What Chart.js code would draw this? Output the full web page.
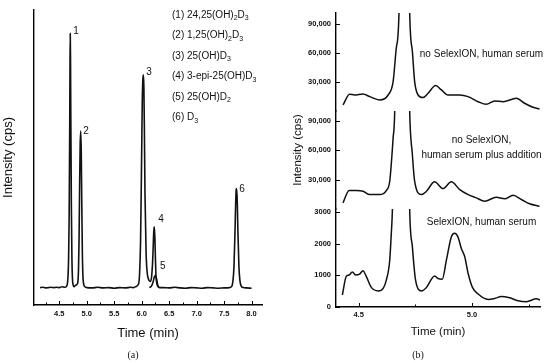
<!DOCTYPE html>
<html>
<head>
<meta charset="utf-8">
<script src="https://cdn.jsdelivr.net/npm/chart.js@4.4.1/dist/chart.umd.min.js"></script>
<style>
  body { margin: 0; background: #fff; }
  #wrap { position: relative; width: 550px; height: 363px; }
  .panel { position: absolute; top: 0; height: 363px; }
</style>
</head>
<body>
<div id="wrap">
  <div class="panel" style="left:0;width:280px"><canvas id="chartA"></canvas></div>
  <div class="panel" style="left:280px;width:270px"><canvas id="chartB"></canvas></div>
</div>
<script>
// ---- panel (a): overlaid chromatogram, intensity in arbitrary % units ----
const timeA = [4.15, 4.20, 4.25, 4.30, 4.35, 4.40, 4.45, 4.50, 4.55, 4.60, 4.63, 4.65, 4.66, 4.67, 4.68, 4.69, 4.695, 4.70, 4.705, 4.71,
  4.72, 4.73, 4.74, 4.75, 4.77, 4.79, 4.81, 4.83, 4.84, 4.85, 4.86, 4.87, 4.88, 4.89, 4.90, 4.91, 4.92, 4.93, 4.94, 4.96,
  5.00, 5.10, 5.20, 5.30, 5.40, 5.50, 5.60, 5.70, 5.80, 5.85, 5.90, 5.94, 5.96, 5.98, 6.00, 6.01, 6.02, 6.03, 6.04, 6.05,
  6.06, 6.08, 6.10, 6.13, 6.16, 6.18, 6.20, 6.21, 6.22, 6.23, 6.24, 6.25, 6.26, 6.28, 6.30, 6.35, 6.40, 6.50, 6.60, 6.70,
  6.80, 6.90, 7.00, 7.10, 7.20, 7.30, 7.40, 7.50, 7.60, 7.64, 7.66, 7.68, 7.70, 7.71, 7.72, 7.73, 7.74, 7.75, 7.77, 7.79,
  7.81, 7.85, 7.90, 8.00];
const intensityA = [5.9, 6.0, 5.8, 5.9, 6.0, 5.9, 6.0, 5.9, 6.2, 6.0, 6.3, 7.5, 10, 16, 30, 60, 80, 92, 82, 64,
  34, 16, 9, 7, 6.2, 6.6, 6.8, 7.2, 8, 12, 22, 40, 54, 59, 52, 34, 18, 10, 7.5, 6.3,
  5.9, 5.8, 6.0, 5.8, 5.9, 5.7, 5.9, 5.8, 6.0, 5.9, 6.3, 7, 10, 22, 52, 68, 76, 78, 74, 58,
  38, 18, 11, 8.5, 8, 9.5, 15, 20, 25, 26.5, 23, 16, 10, 7, 6.2, 5.9, 5.9, 5.8, 6.0, 5.8,
  5.7, 5.9, 5.8, 5.7, 5.9, 5.8, 5.7, 5.8, 5.9, 6.3, 8, 13, 26, 34, 39, 39.5, 35, 26, 13, 8,
  6.5, 5.9, 5.8, 5.7];
// 25(OH)D2 trace, overlaid near peak 4
const time5 = [6.14, 6.18, 6.21, 6.23, 6.25, 6.27, 6.29, 6.31, 6.34];
const intensity5 = [5.9, 6.5, 8, 9.5, 10, 9, 7, 6, 5.8];

const ticksA = [4.5, 5.0, 5.5, 6.0, 6.5, 7.0, 7.5, 8.0];
const minorA = [4.25, 4.75, 5.25, 5.75, 6.25, 6.75, 7.25, 7.75];

const peakNames = ['1', '2', '3', '4', '5', '6'];
const peakTops = [[4.70, 92], [4.89, 59], [6.03, 78], [6.23, 26.5], [6.25, 10], [7.73, 39.5]];

// [text, subscript?]
const compounds = [
  [['(1) 24,25(OH)', false], ['2', true], ['D', false], ['3', true]],
  [['(2) 1,25(OH)', false], ['2', true], ['D', false], ['3', true]],
  [['(3) 25(OH)D', false], ['3', true]],
  [['(4) 3-epi-25(OH)D', false], ['3', true]],
  [['(5) 25(OH)D', false], ['2', true]],
  [['(6) D', false], ['3', true]]
];

// ---- panel (b): three stacked traces ----
const timeB1 = [4.431, 4.460, 4.482, 4.519, 4.549, 4.593, 4.630, 4.652, 4.666, 4.678, 4.700, 4.725, 4.737, 4.747, 4.762,
  4.784, 4.806, 4.840, 4.865, 4.894, 4.946, 4.983, 5.027, 5.063, 5.100, 5.137, 5.196, 5.232, 5.269, 5.298];
const valuesB1 = [6200, 17300, 16500, 17600, 14800, 11400, 16500, 30300, 64900, 102700, 600000, 102700, 61300, 30300, 16500,
  13800, 18300, 26200, 21700, 16500, 16500, 14800, 9600, 6900, 10300, 9600, 13100, 8000, 3800, 2100];

const timeB2 = [4.431, 4.458, 4.490, 4.519, 4.549, 4.593, 4.622, 4.637, 4.652, 4.659, 4.690, 4.725, 4.737, 4.747, 4.777,
  4.799, 4.835, 4.872, 4.909, 4.946, 4.983, 5.019, 5.056, 5.107, 5.144, 5.181, 5.218, 5.254, 5.298];
const valuesB2 = [6300, 18800, 18800, 18100, 14700, 14700, 18800, 28300, 72400, 99500, 600000, 100000, 55400, 28300, 14700,
  18100, 27700, 20800, 27700, 19800, 14700, 11400, 7900, 12000, 10400, 14000, 9700, 5300, 2800];

const timeB3 = [4.428, 4.446, 4.458, 4.472, 4.487, 4.504, 4.519, 4.534, 4.556, 4.586, 4.608, 4.622, 4.637, 4.644, 4.649,
  4.690, 4.725, 4.737, 4.751, 4.777, 4.799, 4.835, 4.850, 4.869, 4.887, 4.909, 4.923, 4.938, 4.953, 4.968,
  4.983, 5.002, 5.027, 5.071, 5.100, 5.129, 5.166, 5.203, 5.240, 5.284, 5.300];
const valuesB3 = [380, 980, 1010, 1110, 1010, 1040, 1150, 960, 620, 510, 590, 850, 1480, 2330, 3120,
  20000, 3100, 1900, 850, 510, 620, 980, 900, 880, 1480, 2220, 2330, 2220, 1850, 1590,
  1060, 620, 410, 240, 270, 330, 290, 200, 170, 260, 220];

const ticksB = [4.5, 5.0];
const minorB = [4.75, 5.25];
const ticksBigY = [30000, 60000, 90000];
const ticksSmallY = [0, 1000, 2000, 3000];
const traceNotes = [['no SelexION, human serum'], ['no SelexION,', 'human serum plus addition'], ['SelexION, human serum']];

Chart.defaults.font.family = "'Liberation Sans', Arial, sans-serif";
Chart.defaults.color = '#111';

const pts = (xs, ys) => xs.map((x, i) => ({ x: x, y: ys[i] }));
const tickFont = { size: 7.5, weight: 'bold' };
const axisBorder = { display: true, color: '#000', width: 1.4 };

function xTicks(scale, values, len) {
  const ctx = scale.ctx;
  ctx.save();
  ctx.strokeStyle = '#000';
  ctx.lineWidth = 1;
  ctx.beginPath();
  values.forEach(v => {
    const x = Math.round(scale.getPixelForValue(v)) + 0.5;
    ctx.moveTo(x, scale.top);
    ctx.lineTo(x, scale.top - len);
  });
  ctx.stroke();
  ctx.restore();
}

function yTicks(scale, len) {
  const ctx = scale.ctx;
  ctx.save();
  ctx.strokeStyle = '#000';
  ctx.lineWidth = 1;
  ctx.beginPath();
  scale.ticks.forEach(t => {
    const y = Math.round(scale.getPixelForValue(t.value)) + 0.5;
    ctx.moveTo(scale.right, y);
    ctx.lineTo(scale.right + len, y);
  });
  ctx.stroke();
  ctx.restore();
}

const panelA = {
  id: 'panelA',
  afterDraw(chart) {
    const ctx = chart.ctx;
    const xs = chart.scales.x, ys = chart.scales.y;
    xTicks(xs, ticksA, 4);
    xTicks(xs, minorA, 2.5);
    ctx.save();
    ctx.fillStyle = '#111';
    // peak numbers
    ctx.font = "10px 'Liberation Sans', Arial, sans-serif";
    ctx.textBaseline = 'middle';
    ctx.textAlign = 'left';
    const offs = [[3, -2], [2.5, 0], [3, -2.5], [4, -8], [4.5, -9.5], [2.5, 1]];
    peakNames.forEach((n, i) => {
      const px = xs.getPixelForValue(peakTops[i][0]);
      const py = ys.getPixelForValue(peakTops[i][1]);
      ctx.fillText(n, px + offs[i][0], py + offs[i][1]);
    });
    // compound list
    compounds.forEach((parts, i) => {
      let x = 172;
      const y = 15 + i * 20.5;
      parts.forEach(p => {
        ctx.font = (p[1] ? '7px' : '10px') + " 'Liberation Sans', Arial, sans-serif";
        ctx.fillText(p[0], x, p[1] ? y + 3.5 : y);
        x += ctx.measureText(p[0]).width;
      });
    });
    ctx.font = "10px 'Liberation Serif', 'Times New Roman', serif";
    ctx.textAlign = 'center';
    ctx.fillText('(a)', 133, 355);
    ctx.restore();
  }
};

const panelB = {
  id: 'panelB',
  afterDraw(chart) {
    const ctx = chart.ctx;
    xTicks(chart.scales.x, ticksB, 4);
    xTicks(chart.scales.x, minorB, 2.5);
    ['yTop', 'yMid', 'yLow'].forEach(id => yTicks(chart.scales[id], 4));
    ctx.save();
    ctx.fillStyle = '#111';
    ctx.textBaseline = 'middle';
    ctx.textAlign = 'center';
    ctx.font = "10px 'Liberation Sans', Arial, sans-serif";
    const noteY = [[54], [140, 155], [222]];
    traceNotes.forEach((lines, i) => lines.forEach((t, j) => ctx.fillText(t, 201.5, noteY[i][j])));
    ctx.save();
    ctx.translate(18, 150);
    ctx.rotate(-Math.PI / 2);
    ctx.font = "11.5px 'Liberation Sans', Arial, sans-serif";
    ctx.fillText('Intensity (cps)', 0, 0);
    ctx.restore();
    ctx.font = "10px 'Liberation Serif', 'Times New Roman', serif";
    ctx.fillText('(b)', 138, 355);
    ctx.restore();
  }
};

new Chart(document.getElementById('chartA'), {
  type: 'line',
  data: {
    datasets: [
      { data: pts(timeA, intensityA), borderColor: '#111', borderWidth: 1.6, pointRadius: 0, cubicInterpolationMode: 'monotone' },
      { data: pts(time5, intensity5), borderColor: '#111', borderWidth: 1.6, pointRadius: 0, cubicInterpolationMode: 'monotone' }
    ]
  },
  options: {
    responsive: true,
    maintainAspectRatio: false,
    animation: false,
    layout: { padding: { top: 10, right: 18, left: 0, bottom: 0 } },
    plugins: { legend: { display: false }, tooltip: { enabled: false } },
    scales: {
      x: {
        type: 'linear', min: 4.04, max: 8.19,
        afterBuildTicks: s => { s.ticks = ticksA.map(v => ({ value: v })); },
        afterFit: s => { s.height = 58; },
        grid: { display: false, drawTicks: false },
        border: axisBorder,
        ticks: { font: tickFont, padding: 4, maxRotation: 0, autoSkip: false, callback: v => v.toFixed(1) },
        title: { display: true, text: 'Time (min)', font: { size: 13 }, padding: { top: 0, bottom: 22 } }
      },
      y: {
        min: 0, max: 100,
        afterFit: s => { s.width = 34; },
        grid: { display: false, drawTicks: false },
        border: axisBorder,
        ticks: { display: false },
        title: { display: true, text: 'Intensity (cps)', font: { size: 13 }, padding: { top: 1, bottom: 0 } }
      }
    }
  },
  plugins: [panelA]
});

const yCommon = (max, vals, fmt, w) => ({
  type: 'linear', position: 'left', stack: 'b', stackWeight: 1, weight: w,
  min: 0, max: max,
  afterBuildTicks: s => { s.ticks = vals.map(v => ({ value: v })); },
  afterFit: s => { s.width = 56; },
  grid: { display: false, drawTicks: false },
  border: axisBorder,
  ticks: { font: tickFont, padding: 5, autoSkip: false, callback: fmt }
});

new Chart(document.getElementById('chartB'), {
  type: 'line',
  data: {
    datasets: [
      { data: pts(timeB1, valuesB1), yAxisID: 'yTop', borderColor: '#111', borderWidth: 1.5, pointRadius: 0, cubicInterpolationMode: 'monotone' },
      { data: pts(timeB2, valuesB2), yAxisID: 'yMid', borderColor: '#111', borderWidth: 1.5, pointRadius: 0, cubicInterpolationMode: 'monotone' },
      { data: pts(timeB3, valuesB3), yAxisID: 'yLow', borderColor: '#111', borderWidth: 1.5, pointRadius: 0, cubicInterpolationMode: 'monotone' }
    ]
  },
  options: {
    responsive: true,
    maintainAspectRatio: false,
    animation: false,
    layout: { padding: { top: 13, right: 10, left: 0, bottom: 0 } },
    plugins: { legend: { display: false }, tooltip: { enabled: false } },
    scales: {
      x: {
        type: 'linear', min: 4.4, max: 5.3,
        afterBuildTicks: s => { s.ticks = ticksB.map(v => ({ value: v })); },
        afterFit: s => { s.height = 56; },
        grid: { display: false, drawTicks: false },
        border: axisBorder,
        ticks: { font: tickFont, padding: 3.5, maxRotation: 0, autoSkip: false, callback: v => v.toFixed(1) },
        title: { display: true, text: 'Time (min)', font: { size: 11.5 }, padding: { top: 0, bottom: 24 } }
      },
      yLow: yCommon(3100, ticksSmallY, v => String(v), 1),
      yMid: yCommon(100000, ticksBigY, v => v.toLocaleString('en-US'), 2),
      yTop: yCommon(101000, ticksBigY, v => v.toLocaleString('en-US'), 3)
    }
  },
  plugins: [panelB]
});
</script>
</body>
</html>
